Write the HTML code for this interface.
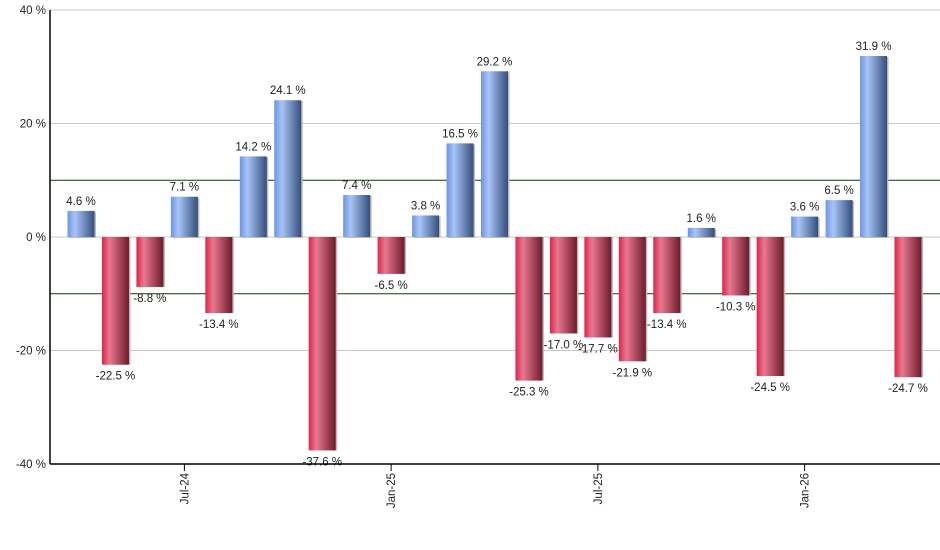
<!DOCTYPE html>
<html><head><meta charset="utf-8"><style>
body{margin:0;background:#fff;}
svg{display:block;font-family:"Liberation Sans",sans-serif;}
</style></head><body>
<svg id="chart" width="940" height="550">
<defs>
<linearGradient id="gb" x1="0" x2="1" y1="0" y2="0">
<stop offset="0" stop-color="#6c94e6"/><stop offset="0.28" stop-color="#a9c4f6"/><stop offset="1" stop-color="#344e7c"/>
</linearGradient>
<linearGradient id="gr" x1="0" x2="1" y1="0" y2="0">
<stop offset="0" stop-color="#de2448"/><stop offset="0.28" stop-color="#e87890"/><stop offset="1" stop-color="#6e1a2c"/>
</linearGradient>
</defs>
<g id="grid"></g><g id="bars"></g><g id="axes"></g>
</svg>
<script>
const values=[4.6,-22.5,-8.8,7.1,-13.4,14.2,24.1,-37.6,7.4,-6.5,3.8,16.5,29.2,-25.3,-17.0,-17.7,-21.9,-13.4,1.6,-10.3,-24.5,3.6,6.5,31.9,-24.7];
const yTicks=[40,20,0,-20,-40];
const xLabels=["Jul-24","Jan-25","Jul-25","Jan-26"];
const xLabelIdx=[3,9,15,21];
const NS="http://www.w3.org/2000/svg";
const X0=50,X1=940,Y0=10,Y1=464;
function y(v){return 237-v*(Y1-Y0)/80;}
function x(i){return 81+i*(908-81)/(values.length-1);}
function mk(t,a,p){const e=document.createElementNS(NS,t);for(const k in a)e.setAttribute(k,a[k]);p.appendChild(e);return e;}
const grid=document.getElementById('grid'),bars=document.getElementById('bars'),axes=document.getElementById('axes');
yTicks.forEach(t=>{
 const l=mk('line',{x1:X0,x2:X1,y1:y(t),y2:y(t),stroke:'#c8c8c8','stroke-width':1},grid);
 
 
 const tx=mk('text',{x:46,y:y(t)+4,'text-anchor':'end','font-size':11.5,fill:'#222'},axes);
 tx.textContent=t+' %';
 
 
});
[10,-10].forEach(t=>{
 const l=mk('line',{x1:X0,x2:X1,y1:y(t),y2:y(t),stroke:'#0c3e0c','stroke-width':1},grid);
 
 
});
values.forEach((v,i)=>{
 const cx=x(i),w=27,top=Math.min(y(v),y(0)),h=Math.abs(y(v)-y(0));
 mk('rect',{x:cx-w/2+1.5,y:top+(v>0?1:0),width:w,height:h,fill:'#bbb'},bars);
 const r=mk('rect',{x:cx-w/2,y:top,width:w,height:h,fill:v>=0?'url(#gb)':'url(#gr)'},bars);
 
 
 const t=mk('text',{x:cx,y:v>=0?y(v)-6:y(v)+15,'text-anchor':'middle','font-size':11.5,fill:'#222'},bars);
 t.textContent=v.toFixed(1)+' %';
 
 
});
mk('line',{x1:X0,x2:X0,y1:Y0,y2:Y1,stroke:'#000','stroke-width':1.5},axes);
mk('line',{x1:X0,x2:X1,y1:Y1,y2:Y1,stroke:'#000','stroke-width':1.5},axes);
xLabelIdx.forEach((idx,k)=>{
 const cx=x(idx);
 mk('line',{x1:cx,x2:cx,y1:Y1,y2:Y1+7,stroke:'#000'},axes);
 const t=mk('text',{x:0,y:0,'text-anchor':'end','font-size':11.5,fill:'#222',transform:`translate(${cx+4},${Y1+9}) rotate(-90)`},axes);
 t.textContent=xLabels[k];
 
 
});
</script>
</body></html>
